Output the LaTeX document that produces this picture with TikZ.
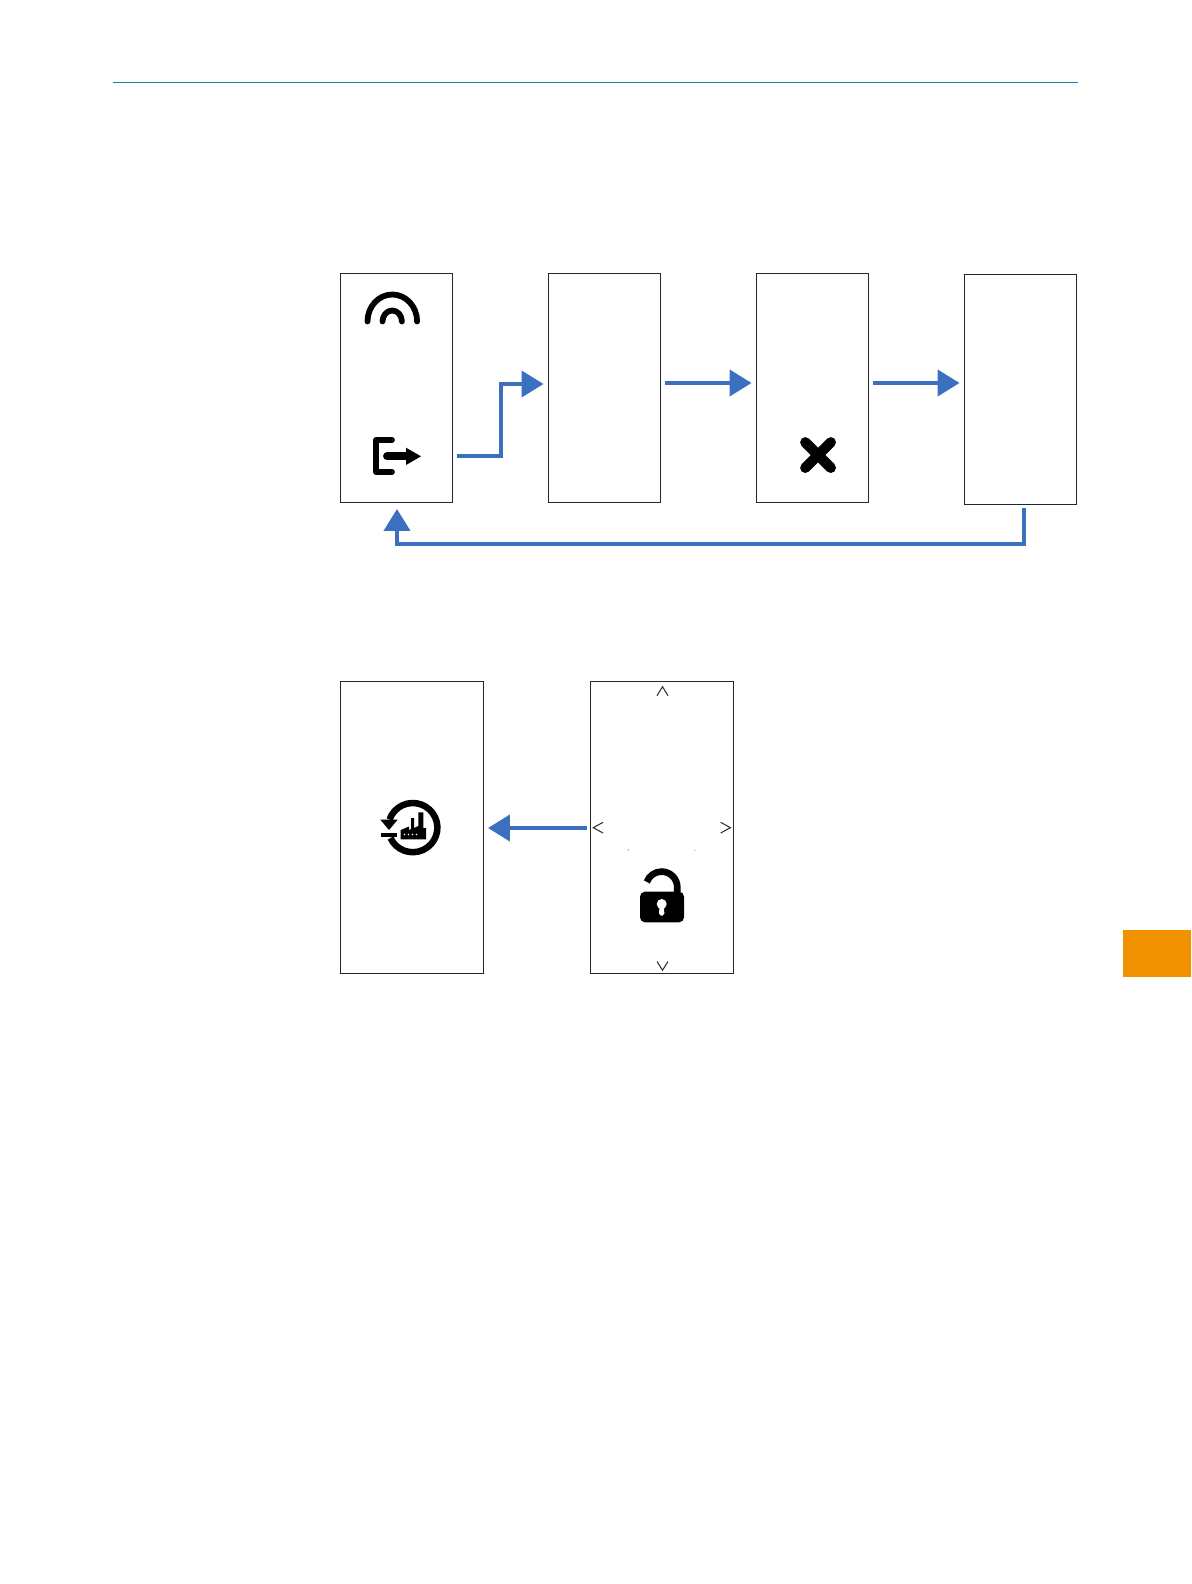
\documentclass[tikz,border=0pt]{standalone}
\usepackage{xcolor}
\usetikzlibrary{arrows.meta}
\definecolor{flowblue}{HTML}{3C70BE}
\definecolor{headline}{HTML}{1B7DB0}
\definecolor{tabfill}{HTML}{F39200}
\definecolor{chevgray}{HTML}{303030}
\tikzset{
  screen/.style={draw=black!85,line width=0.55pt,fill=white,inner sep=0pt},
  smallscreen/.style={screen,minimum width=63.9pt,minimum height=130.4pt},
  bigscreen/.style={screen,minimum width=81.3pt,minimum height=166.2pt},
  flow/.style={draw=flowblue,line width=2.3pt,line join=miter,
    -{Triangle[length=12.5pt,width=14.8pt]}},
  icon/.style={line width=3.3pt,line cap=round,line join=round},
  chevron/.style={draw=chevgray,line width=0.6pt},
}
\begin{document}
\begin{tikzpicture}[x=0.02cm,y=-0.02cm]
  \useasboundingbox (0,0) rectangle (1191,1584);
  \draw[headline,line width=0.65pt] (113,82.5) -- (1078,82.5);
  \fill[tabfill] (1123,929.5) rectangle (1191,977);
  % upper row
  \node[smallscreen] (scrA) at (396.2,388) {};
  \node[smallscreen] (scrB) at (604.2,388) {};
  \node[smallscreen] (scrC) at (812.2,388) {};
  \node[smallscreen,minimum height=131.2pt] (scrD) at (1020.2,389.7) {};
  % lower row
  \node[bigscreen] (scrE) at (411.7,827.2) {};
  \node[bigscreen] (scrF) at (661.7,827.2) {};
  \coordinate (exitout) at (452.5,455.7);
  \coordinate (backout) at (1024.3,505);
  \draw[flow,shorten <=2.6pt,shorten >=2.3pt] (exitout) -- (501,455.7) -- (501,384) -- (scrB.west |- 0,384);
  \draw[flow,shorten <=2.5pt,shorten >=2.3pt] (scrB.east |- 0,383) -- (scrC.west |- 0,383);
  \draw[flow,shorten <=2.5pt,shorten >=2.3pt] (scrC.east |- 0,383) -- (scrD.west |- 0,383);
  \draw[flow,shorten <=1.6pt,shorten >=3.4pt] (backout) -- (1024.3,544) -- (397,544) -- (scrA.south -| 397,0);
  \draw[flow,shorten <=1.7pt,shorten >=2.5pt] (scrF.west |- 0,828) -- (scrE.east |- 0,828);
  % gauge
  \draw[icon] (367.5,321.5) arc[start angle=180,end angle=360,x radius=24.8,y radius=27];
  \draw[icon] (382.5,321.5) arc[start angle=180,end angle=360,x radius=9.7,y radius=11];
  % exit
  \draw[icon] (392,440) -- (376,440) -- (376,472) -- (392,472);
  \draw[line width=4.5pt,line cap=round] (387,456.3) -- (408,456.3);
  \fill (406,447.7) -- (421,456.3) -- (406,465) -- cycle;
  % cross
  \draw[line width=5.9pt,line cap=round] (805.3,442.3) -- (830.8,467.8);
  \draw[line width=5.9pt,line cap=round] (830.8,442.3) -- (805.3,467.8);
  % factory reset
  \draw[line width=3.7pt] (390.5,838) arc[start angle=155,end angle=-161,radius=24.6];
  \fill (380.2,819.5) -- (397.8,819.5) -- (389,830) -- cycle;
  \fill (380.7,832.7) rectangle (397.3,837.3);
  \fill (400.7,839.3) -- (400.7,830) -- (409,826.5) -- (409,830) -- (411,829) -- (411,818) -- (414,818) -- (414,828) -- (418.3,826) -- (418.3,812.3) -- (423.3,812.3) -- (423.3,828) -- (426,828) -- (426,839.3) -- cycle;
  \foreach \x in {404.5,408.5,412.5,416.5} {\fill[white] (\x,834.5) circle (0.8);}
  % lock
  \fill[rounded corners=2.8pt] (640,891.7) rectangle (684,922.3);
  \draw[line width=3.8pt] (677.3,892) -- (677.3,887.3) arc[start angle=0,end angle=-160,radius=15.7];
  \fill[white] (661.7,904) circle (5);
  \fill[white,rounded corners=1pt] (659.5,905) -- (663.9,905) -- (664.4,915.5) -- (659,915.5) -- cycle;
  % chevrons
  \draw[chevron] (603,822.3) -- (593.3,827.7) -- (603,833);
  \draw[chevron] (720.7,822.3) -- (730.4,827.7) -- (720.7,833);
  \draw[chevron] (657,695.7) -- (662.5,686.7) -- (668,695.7);
  \draw[chevron] (657,961.5) -- (662.5,970.2) -- (668,961.5);
  \fill[black!70] (628.3,850) circle (0.6);
  \fill[black!35] (695,850.3) circle (0.7);
\end{tikzpicture}
\end{document}
